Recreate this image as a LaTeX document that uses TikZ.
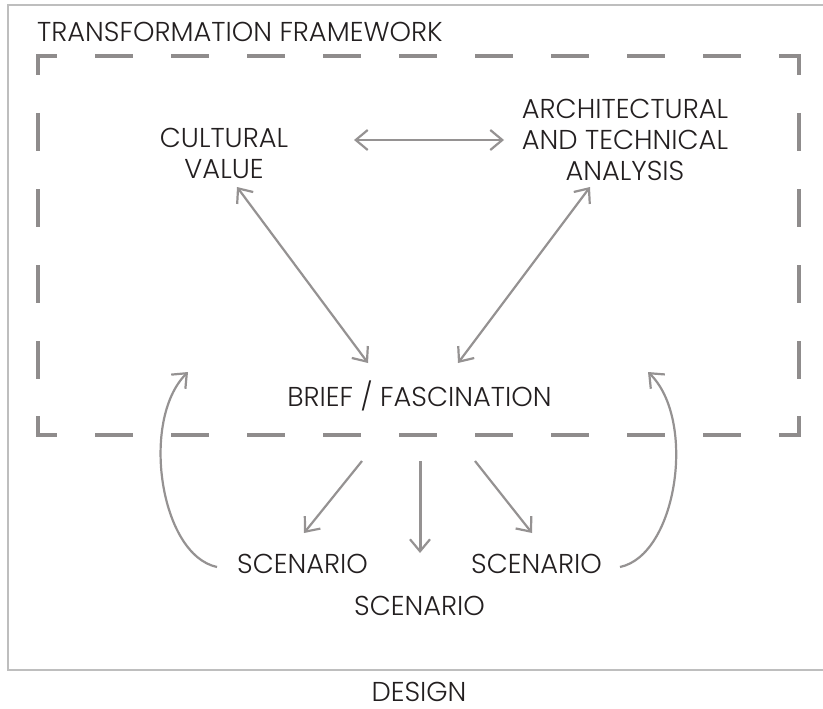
\documentclass[tikz,border=0pt]{standalone}
\usepackage{fontspec}
\setmainfont{Poppins Light}
\usetikzlibrary{arrows.meta}
\definecolor{framecol}{HTML}{BEBEBE}
\definecolor{dashcol}{HTML}{8F8C8C}
\definecolor{arrcol}{HTML}{959292}
\definecolor{txtcol}{HTML}{231F20}
\tikzset{
  lbl/.style={text=txtcol, font=\fontsize{27.3}{30.8}\selectfont, align=center, inner sep=0pt, anchor=base},
  ttl/.style={text=txtcol, font=\fontsize{27.3}{30}\selectfont, inner sep=0pt, anchor=base west},
  conn/.style={draw=arrcol, line width=2.2pt, -{Straight Barb[length=12pt,width=20pt,line width=2.2pt]}},
  biconn/.style={draw=arrcol, line width=2.2pt, {Straight Barb[length=12pt,width=20pt,line width=2.2pt]}-{Straight Barb[length=12pt,width=20pt,line width=2.2pt]}},
  dashside/.style={draw=dashcol, line width=4pt, dash pattern=on 38pt off 38pt, dash phase=19pt}
}
\begin{document}
\begin{tikzpicture}[x=1pt,y=-1pt]
\useasboundingbox (0,0) rectangle (823,709);
\draw[framecol, line width=1.5pt] (826,5) -- (8,5) -- (8,670) -- (826,670);
% dashed frame
\coordinate (c1) at (38,56);
\coordinate (c2) at (799,56);
\coordinate (c3) at (799,435);
\coordinate (c4) at (38,435);
\draw[dashside] (c1) -- (c2);
\draw[dashside] (c1) -- (c4);
\draw[dashside] (c2) -- (c3);
\draw[dashside] (c4) -- (c3);
\draw[draw=dashcol, line width=4pt] (38,75) -- (c1) -- (57,56);
\draw[draw=dashcol, line width=4pt] (780,56) -- (c2) -- (799,75);
\draw[draw=dashcol, line width=4pt] (38,416) -- (c4) -- (57,435);
\draw[draw=dashcol, line width=4pt] (780,435) -- (c3) -- (799,416);

\node[ttl] (title) at (37,42) {TRANSFORMATION FRAMEWORK};
\node[lbl] (cult) at (224,178.5) {CULTURAL\\VALUE};
\node[lbl] (arch) at (625,180) {ARCHITECTURAL\\AND TECHNICAL\\ANALYSIS};
\node[lbl] (brief) at (419.5,406) {BRIEF / FASCINATION};
\node[lbl] (scl) at (302.5,573) {SCENARIO};
\node[lbl] (scm) at (419.5,615) {SCENARIO};
\node[lbl] (scr) at (536.5,573) {SCENARIO};
\node[lbl] (design) at (419,701) {DESIGN};

\coordinate (h1) at (354,140);
\coordinate (h2) at (504,140);
\coordinate (cb1) at (237,187);
\coordinate (cb2) at (368,363);
\coordinate (ab1) at (590,187);
\coordinate (ab2) at (458,363);
\coordinate (bl1) at (362,461);
\coordinate (bl2) at (304,533);
\coordinate (bm1) at (420,461);
\coordinate (bm2) at (420,553);
\coordinate (br1) at (475,461);
\coordinate (br2) at (532,533);
\coordinate (ll1) at (217,567);
\coordinate (ll2) at (188,372);
\coordinate (rr1) at (620,567);
\coordinate (rr2) at (648,372);

\draw[biconn] (h1) -- (h2);
\draw[biconn] (cb1) -- (cb2);
\draw[biconn] (ab1) -- (ab2);
\draw[conn] (bl1) -- (bl2);
\draw[conn, line width=3pt] (bm1) -- (bm2);
\draw[conn] (br1) -- (br2);
\draw[conn] (ll1) .. controls (160,555) and (140,420) .. (ll2);
\draw[conn] (rr1) .. controls (677,555) and (697,420) .. (rr2);
\end{tikzpicture}
\end{document}
